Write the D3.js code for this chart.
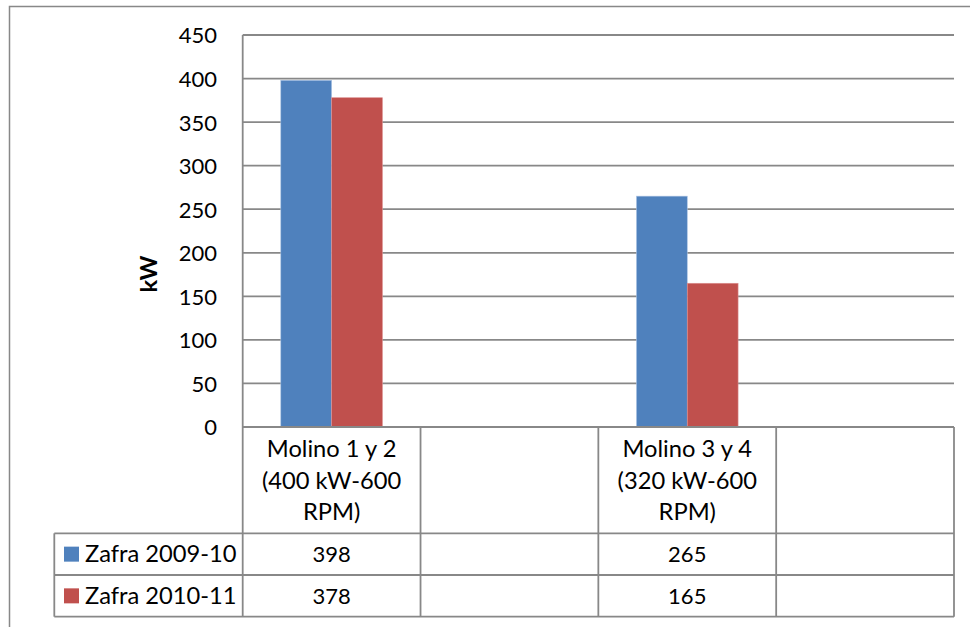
<!DOCTYPE html>
<html>
<head>
<meta charset="utf-8">
<script src="https://cdn.jsdelivr.net/npm/d3@7/dist/d3.min.js"></script>
<style>
  html, body { margin: 0; padding: 0; background: #fff; }
  svg text { font-family: Lato, "Open Sans", sans-serif; fill: #000; }
</style>
</head>
<body>
<svg id="chart" width="970" height="627"></svg>
<script>
// ---- data ----
const categories = ["Molino 1 y 2\n(400 kW-600\nRPM)", "", "Molino 3 y 4\n(320 kW-600\nRPM)", ""];
const seriesNames = ["Zafra 2009-10", "Zafra 2010-11"];
const zafra0910 = [398, null, 265, null];
const zafra1011 = [378, null, 165, null];
const yTicks = [0, 50, 100, 150, 200, 250, 300, 350, 400, 450];
const seriesColors = ["#4F81BD", "#C0504D"];
const yTitle = "kW";

// ---- layout ----
const svg = d3.select("#chart");
const plot = { left: 242.7, right: 954, top: 35, bottom: 427 };
const tableRows = [427, 533.3, 575, 616.7];
const legendLeft = 54.3;
const lineColor = "#888888";
const fontSize = 22;
const labelSize = 23.7;

const x = d3.scaleBand().domain(d3.range(categories.length)).range([plot.left, plot.right]).padding(0);
const x1 = d3.scaleBand().domain(seriesNames).range([0, x.bandwidth()]).paddingInner(0).paddingOuter(0.75);
const y = d3.scaleLinear().domain([0, 450]).range([plot.bottom, plot.top]);

// outer chart border (extends beyond the frame)
svg.append("rect")
  .attr("x", 9.5).attr("y", 6.5).attr("width", 1000).attr("height", 700)
  .attr("fill", "none").attr("stroke", lineColor).attr("stroke-width", 1.5);

// gridlines
svg.append("g").selectAll("line").data(yTicks).join("line")
  .attr("x1", plot.left).attr("x2", plot.right)
  .attr("y1", d => y(d)).attr("y2", d => y(d))
  .attr("stroke", lineColor).attr("stroke-width", 1.8);

// y axis labels
const yAxis = d3.axisLeft(y).tickValues(yTicks).tickSize(0).tickPadding(0);
const yg = svg.append("g").attr("transform", `translate(217,0)`).call(yAxis);
yg.select(".domain").remove();
yg.selectAll("text").attr("font-size", fontSize).attr("font-family", "Lato, 'Open Sans', sans-serif").attr("fill", "#000").attr("dy", "0.36em");

// y title
svg.append("text")
  .attr("transform", `translate(157,274) rotate(-90)`)
  .attr("text-anchor", "middle")
  .attr("font-size", labelSize).attr("font-weight", "bold")
  .text(yTitle);

// bars
const series = [zafra0910, zafra1011];
series.forEach((vals, si) => {
  svg.append("g").selectAll("rect").data(vals.map((v, i) => ({ v, i })).filter(d => d.v != null)).join("rect")
    .attr("x", d => x(d.i) + x1(seriesNames[si]))
    .attr("width", x1.bandwidth())
    .attr("y", d => y(d.v))
    .attr("height", d => y(0) - y(d.v))
    .attr("fill", seriesColors[si])
    .attr("stroke", si === 0 ? "#a9c2e3" : "#dc9190").attr("stroke-width", 0.6);
});

// data table lines
const tg = svg.append("g").attr("stroke", lineColor).attr("stroke-width", 1.8);
tg.append("line").attr("x1", plot.left).attr("x2", plot.right).attr("y1", tableRows[0]).attr("y2", tableRows[0]);
tableRows.slice(1).forEach(r => {
  tg.append("line").attr("x1", legendLeft).attr("x2", plot.right).attr("y1", r).attr("y2", r);
});
tg.append("line").attr("x1", plot.left).attr("x2", plot.left).attr("y1", plot.top).attr("y2", tableRows[3]);
tg.append("line").attr("x1", legendLeft).attr("x2", legendLeft).attr("y1", tableRows[1]).attr("y2", tableRows[3]);
d3.range(1, categories.length + 1).forEach(i => {
  const xv = i < categories.length ? x(i) : plot.right;
  tg.append("line").attr("x1", xv).attr("x2", xv).attr("y1", tableRows[0]).attr("y2", tableRows[3]);
});

// category labels
const lineH = 31.7;
categories.forEach((c, i) => {
  if (!c) return;
  const t = svg.append("text").attr("text-anchor", "middle").attr("font-size", labelSize);
  c.split("\n").forEach((ln, k) => {
    t.append("tspan").attr("x", x(i) + x.bandwidth() / 2).attr("y", 457 + k * lineH).text(ln);
  });
});

// legend cells and values
series.forEach((vals, si) => {
  const rTop = tableRows[si + 1], rBot = tableRows[si + 2];
  const cy = (rTop + rBot) / 2;
  svg.append("rect").attr("x", 64).attr("y", cy - 7.5).attr("width", 15).attr("height", 15).attr("fill", seriesColors[si]);
  svg.append("text").attr("x", 85).attr("y", cy + 8.3).attr("font-size", labelSize).text(seriesNames[si]);
  vals.forEach((v, i) => {
    if (v == null) return;
    svg.append("text").attr("x", x(i) + x.bandwidth() / 2).attr("y", cy + 8.3)
      .attr("text-anchor", "middle").attr("font-size", fontSize).text(v);
  });
});
</script>
</body>
</html>
